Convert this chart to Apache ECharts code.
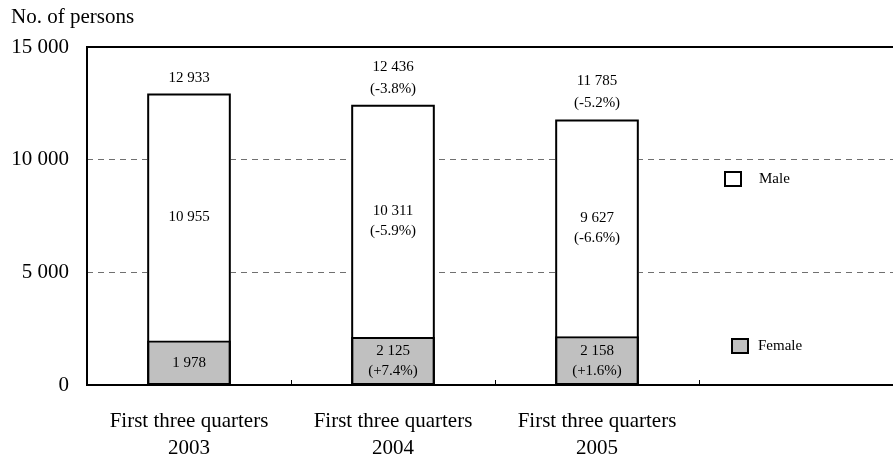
<!DOCTYPE html>
<html>
<head>
<meta charset="utf-8">
<script src="https://cdn.jsdelivr.net/npm/echarts@6/dist/echarts.min.js"></script>
<style>
  html, body { margin: 0; padding: 0; background: #fff; }
  /* the plot runs on past the right edge of the frame, as in the printed figure */
  #frame { position: relative; width: 893px; height: 459px; overflow: hidden; }
  #chart { position: absolute; left: 0; top: 0; width: 903px; height: 459px; }
</style>
</head>
<body>
<div id="frame"><div id="chart"></div></div>
<script>
// Periods on the x axis (the last slot is left empty)
const categories = ['First three quarters\n2003', 'First three quarters\n2004', 'First three quarters\n2005', ''];

// Number of persons by sex
const femaleValues = [1978, 2125, 2158];
const maleValues = [10955, 10311, 9627];
const totalValues = [12933, 12436, 11785];

// Year-on-year change (%), none for the first period
const femaleChange = [null, 7.4, 1.6];
const maleChange = [null, -5.9, -6.6];
const totalChange = [null, -3.8, -5.2];

// Value axis
const yMin = 0;
const yMax = 15000;
const yStep = 5000;

const FONT = '"Liberation Serif", "Times New Roman", serif';

function fmtNum(v) {
  return String(v).replace(/\B(?=(\d{3})+(?!\d))/g, ' ');
}
function fmtChange(c) {
  if (c === null || c === undefined) return '';
  return '\n(' + (c > 0 ? '+' : '') + c.toFixed(1) + '%)';
}

const chart = echarts.init(document.getElementById('chart'), null, { renderer: 'canvas' });

const barLabel = {
  show: true,
  position: 'inside',
  color: '#000',
  fontFamily: FONT,
  fontSize: 15,
  lineHeight: 20
};

const legendBase = {
  padding: 0,
  icon: 'rect',
  itemWidth: 16,
  itemHeight: 14,
  selectedMode: false
};

chart.setOption({
  animation: false,
  backgroundColor: '#fff',
  textStyle: { fontFamily: FONT },
  title: {
    text: 'No. of persons',
    left: 11,
    top: 6,
    padding: 0,
    textStyle: { fontFamily: FONT, fontSize: 21, fontWeight: 'normal', color: '#000', lineHeight: 22 }
  },
  legend: [
    Object.assign({}, legendBase, {
      data: ['Male'],
      left: 724,
      top: 171,
      itemStyle: { color: '#fff', borderColor: '#000', borderWidth: 2 },
      textStyle: { fontFamily: FONT, fontSize: 15, color: '#000', padding: [0, 0, 0, 13] }
    }),
    Object.assign({}, legendBase, {
      data: ['Female'],
      left: 731,
      top: 338,
      itemStyle: { color: '#c0c0c0', borderColor: '#000', borderWidth: 2 },
      textStyle: { fontFamily: FONT, fontSize: 15, color: '#000', padding: [0, 0, 0, 5] }
    })
  ],
  grid: {
    left: 87,
    right: 0,
    top: 47,
    bottom: 74,
    containLabel: false,
    outerBoundsMode: 'none',
    show: true,
    borderColor: '#000',
    borderWidth: 2,
    backgroundColor: 'transparent'
  },
  xAxis: {
    type: 'category',
    data: categories,
    boundaryGap: true,
    axisLine: { show: true, lineStyle: { color: '#000', width: 2 } },
    axisTick: { show: true, inside: true, length: 5, lineStyle: { color: '#000', width: 1 } },
    axisLabel: {
      color: '#000',
      fontFamily: FONT,
      fontSize: 21,
      lineHeight: 27,
      margin: 23,
      interval: 0
    },
    splitLine: { show: false }
  },
  yAxis: {
    type: 'value',
    min: yMin,
    max: yMax,
    interval: yStep,
    axisLine: { show: true, lineStyle: { color: '#000', width: 2 } },
    axisTick: { show: false },
    axisLabel: {
      color: '#000',
      fontFamily: FONT,
      fontSize: 21,
      margin: 18,
      formatter: v => fmtNum(v)
    },
    splitLine: {
      show: true,
      showMinLine: false,
      showMaxLine: false,
      lineStyle: { color: '#707070', width: 1, type: [6, 5] }
    }
  },
  series: [
    {
      // lower segment; its top edge is the divider between the two groups
      name: 'Female',
      type: 'bar',
      stack: 'persons',
      barWidth: '41%',
      barGap: '-100%',
      data: femaleValues,
      itemStyle: { color: '#c0c0c0', borderColor: '#000', borderWidth: 2 },
      label: Object.assign({}, barLabel, {
        formatter: p => fmtNum(p.value) + fmtChange(femaleChange[p.dataIndex])
      }),
      emphasis: { disabled: true },
      z: 3
    },
    {
      name: 'Male',
      type: 'bar',
      stack: 'persons',
      barWidth: '41%',
      barGap: '-100%',
      data: maleValues,
      itemStyle: { color: '#fff', borderWidth: 0 },
      label: Object.assign({}, barLabel, {
        formatter: p => fmtNum(p.value) + fmtChange(maleChange[p.dataIndex])
      }),
      emphasis: { disabled: true },
      z: 3
    },
    {
      // outline of the whole column, with the total written above it
      name: 'Total',
      type: 'bar',
      barWidth: '41%',
      barGap: '-100%',
      data: totalValues,
      silent: true,
      itemStyle: { color: 'transparent', borderColor: '#000', borderWidth: 2 },
      label: {
        show: true,
        position: 'top',
        distance: 5,
        color: '#000',
        fontFamily: FONT,
        fontSize: 15,
        lineHeight: 22,
        formatter: p => fmtNum(p.value) + fmtChange(totalChange[p.dataIndex])
      },
      emphasis: { disabled: true },
      z: 4
    }
  ]
});
</script>
</body>
</html>
